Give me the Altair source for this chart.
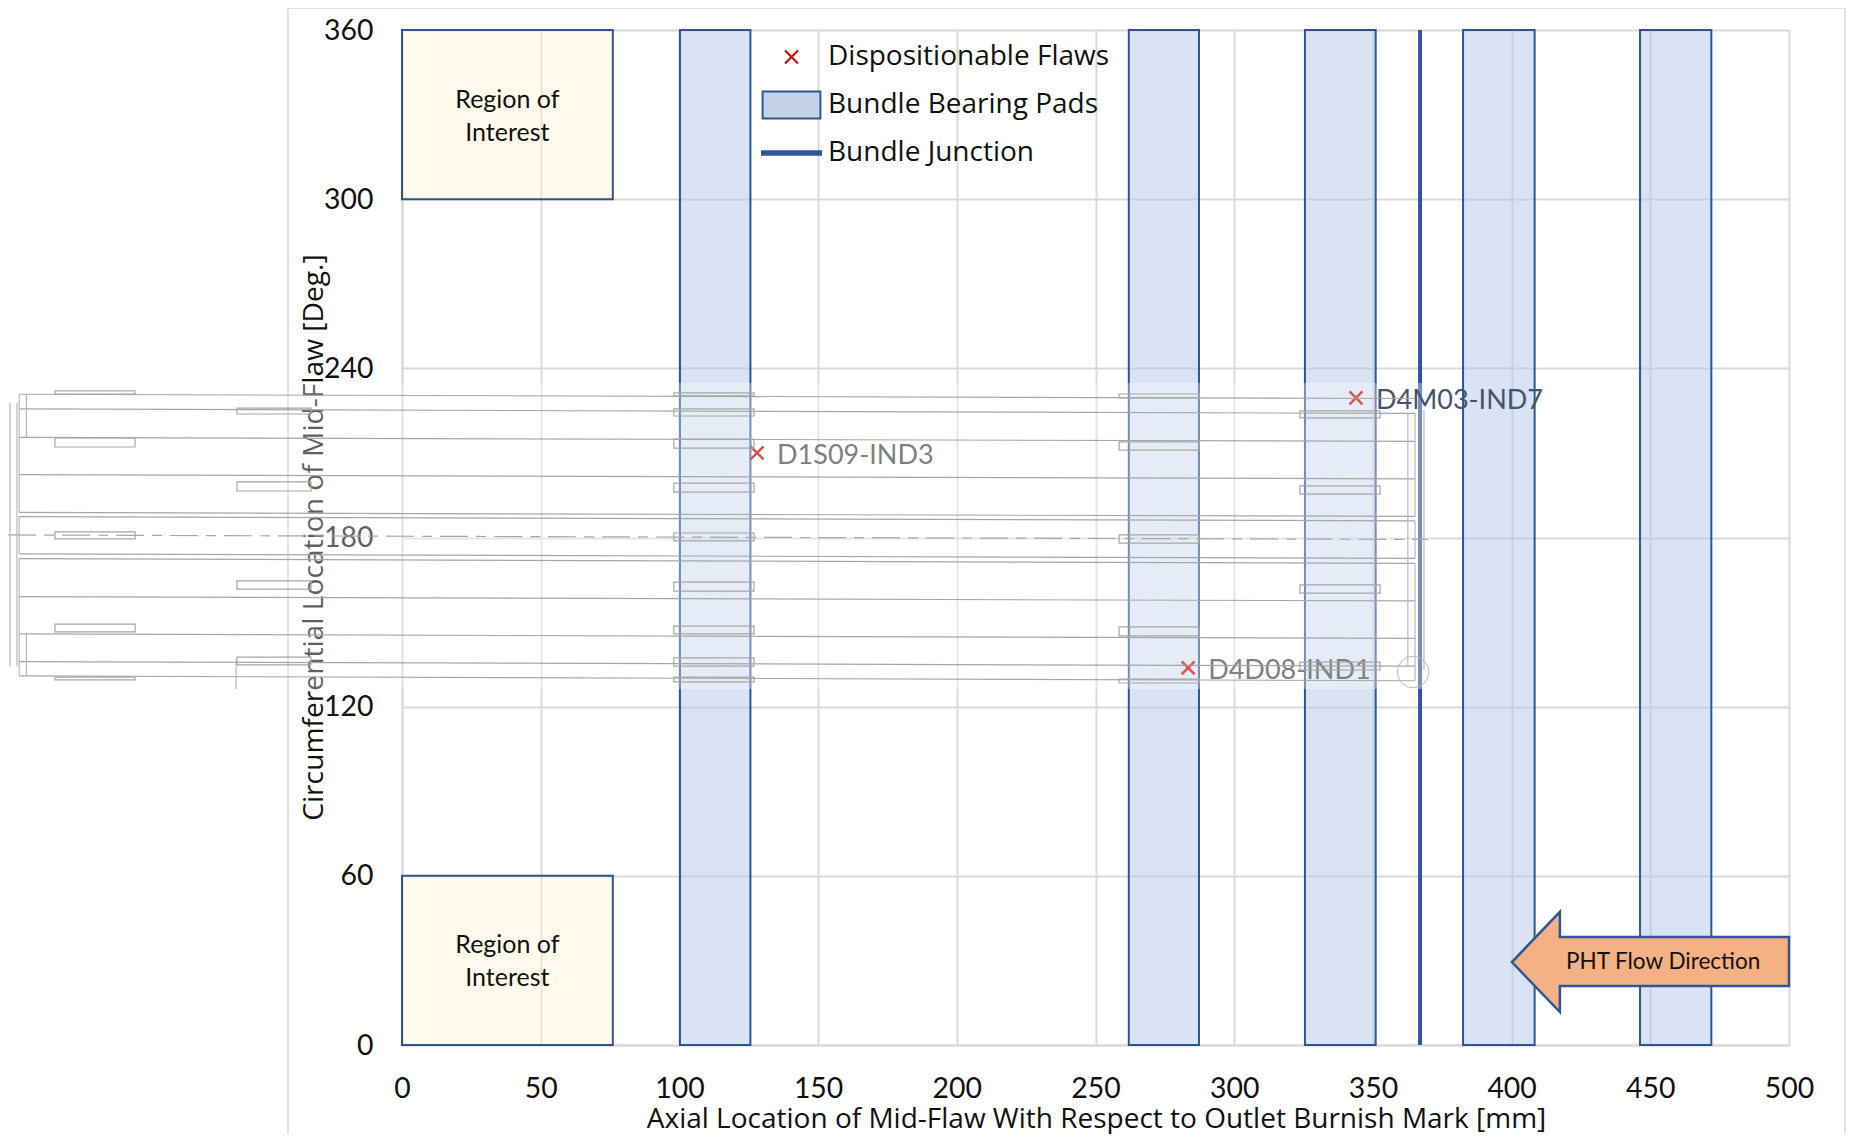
import altair as alt
import pandas as pd

FONT = "Lato"
WIDE = "Open Sans"
BLUE = "#2F5597"

# --- chart values (mm, degrees) ---
pad_x1 = [100.2, 262.0, 325.5, 382.5, 446.3]
pad_x2 = [125.6, 287.3, 351.0, 408.3, 472.0]
roi_x1 = [0, 0]
roi_x2 = [76.0, 76.0]
roi_y1 = [300, 0]
roi_y2 = [360, 60]
roi_tx = [38, 38]
roi_ty = [330, 30]
junction = [367]
flaw_x = [128.0, 343.9, 283.4]
flaw_y = [210.0, 229.5, 133.8]
flaw_names = ["D1S09-IND3", "D4M03-IND7", "D4D08-IND1"]
series_names = ["Dispositionable Flaws", "Bundle Bearing Pads", "Bundle Junction"]

arrow_x = [400.1, 417.4, 417.4, 500.0]
arrow_top = [29.4, 47.2, 38.3, 38.3]
arrow_bot = [29.4, 11.7, 20.9, 20.9]

# background drawing: bundle lines (left degree, right degree)
line_left = [230.8, 225.6, 215.5, 202.3, 188.9, 187.4, 174.2, 172.5, 159.0, 145.8, 136.0, 130.9]
line_right = [229.3, 224.0, 214.1, 200.8, 187.5, 185.9, 172.6, 170.8, 157.5, 144.2, 134.4, 129.2]
line_x1 = -138.0
line_x2 = 365.2
center_y = [180.9, 179.3]
center_x = [-142.0, 370.0]
vert_x = [-138.0, -138.0, -138.0, 365.2, 365.2, 365.2, -135.4, -135.4, 362.6, -141.3, -138.8, 368.4, -59.8]
vert_y1 = [230.8, 187.4, 172.5, 224.0, 185.9, 170.8, 230.8, 145.8, 224.0, 227.7, 227.7, 225.2, 136.5]
vert_y2 = [188.9, 174.2, 130.9, 187.5, 172.6, 129.2, 215.5, 130.9, 134.4, 134.3, 134.3, 133.0, 126.3]

drawing_pad_groups = {
    (-125.1, -96.2): [(232.0, 230.9), (215.3, 212.1), (182.0, 179.5), (149.3, 146.5), (130.5, 129.5)],
    (-59.5, -32.8): [(225.9, 223.8), (199.7, 196.5), (164.6, 161.7), (137.6, 134.8)],
    (98.0, 126.9): [(231.3, 230.2), (225.6, 223.1), (214.9, 211.7), (199.3, 196.1), (181.6, 178.8),
                    (164.2, 161.0), (148.6, 145.8), (137.3, 134.4), (130.5, 128.8)],
    (258.5, 287.3): [(230.9, 229.5), (213.9, 211.0), (180.9, 178.0), (148.3, 145.1), (129.8, 128.4)],
    (323.7, 352.6): [(224.9, 222.4), (198.3, 195.4), (163.2, 160.3), (135.8, 133.0)],
}
veil_x = [-142.0, 370.6]
veil_y = [126.3, 234.8]
circle_x = [364.5]
circle_y = [132.3]
frame_x = [-41.1, 520.2]
frame_y = [-34.4, 367.8]

# --- tables ---
pads = pd.DataFrame({"x1": pad_x1, "x2": pad_x2, "y1": [0] * 5, "y2": [360] * 5})
roi = pd.DataFrame({"x1": roi_x1, "x2": roi_x2, "y1": roi_y1, "y2": roi_y2})
roi_txt = pd.DataFrame({"x": roi_tx, "y": roi_ty, "t": ["Region of\nInterest"] * 2})
flaws = pd.DataFrame({"x": flaw_x, "y": flaw_y, "name": flaw_names, "series": series_names[0]})
arrow = pd.DataFrame({"x": arrow_x, "y": arrow_top, "y2": arrow_bot})

rows = []
for i, (a, b) in enumerate(zip(line_left, line_right)):
    rows += [{"x": line_x1, "y": a, "id": i, "o": 0}, {"x": line_x2, "y": b, "id": i, "o": 1}]
lines = pd.DataFrame(rows)
center = pd.DataFrame({"x": center_x, "y": center_y})
verts = pd.DataFrame({"x": vert_x, "y": vert_y1, "y2": vert_y2})
drawing_pads = pd.DataFrame([
    {"x1": k[0], "x2": k[1], "y1": a, "y2": b}
    for k, v in drawing_pad_groups.items() for a, b in v
])

xs = alt.Scale(domain=[0, 500], nice=False)
ys = alt.Scale(domain=[0, 360], nice=False)
X = alt.X("x:Q", scale=xs)
Y = alt.Y("y:Q", scale=ys)

base_x = alt.X(
    "x1:Q", scale=xs,
    axis=alt.Axis(
        values=list(range(0, 501, 50)), grid=True, gridColor="#D9D9D9", gridWidth=2,
        domainColor="#D9D9D9", domainWidth=2, ticks=False, labelFont=FONT, labelFontSize=28.4,
        labelColor="#111111", labelPadding=30, labelFlush=False, format="d",
        title="Axial Location of Mid-Flaw With Respect to Outlet Burnish Mark [mm]",
        titleFont=WIDE, titleFontSize=28, titleFontWeight="normal", titleColor="#111111",
        titleX=694, titleY=82, titleAlign="center", titleBaseline="alphabetic",
    ),
)
base_y = alt.Y(
    "y1:Q", scale=ys,
    axis=alt.Axis(
        values=list(range(0, 361, 60)), grid=True, gridColor="#D9D9D9", gridWidth=2,
        domainColor="#D9D9D9", domainWidth=2, ticks=False, labelFont=FONT, labelFontSize=28.4,
        labelColor="#111111", labelPadding=29, format="d",
        title="Circumferential Location of Mid-Flaw [Deg.]",
        titleFont=WIDE, titleFontSize=28.2, titleFontWeight="normal", titleColor="#111111",
        titleX=-74, titleY=507, titleAlign="center",
    ),
)

pad_layer = alt.Chart(pads).mark_rect(
    fill="#B4C7E7", fillOpacity=0.5, stroke=BLUE, strokeWidth=2
).encode(x=base_x, x2="x2:Q", y=base_y, y2="y2:Q")

roi_layer = alt.Chart(roi).mark_rect(
    fill="#FFF2CC", fillOpacity=0.4, stroke=BLUE, strokeWidth=2
).encode(x=alt.X("x1:Q", scale=xs), x2="x2:Q", y=alt.Y("y1:Q", scale=ys), y2="y2:Q")

roi_text = alt.Chart(roi_txt).mark_text(
    font=FONT, fontSize=25, color="#111111", lineBreak="\n", lineHeight=33, dy=-15
).encode(x=X, y=Y, text="t:N")

junction_layer = alt.Chart(pd.DataFrame({"x": junction})).mark_rule(
    stroke=BLUE, strokeWidth=4
).encode(x=X, y=alt.value(0), y2=alt.value(1015))

arrow_layer = alt.Chart(arrow).mark_area(
    fill="#F4B183", fillOpacity=1, stroke=BLUE, strokeWidth=2.5, interpolate="linear", orient="vertical"
).encode(x=X, y=Y, y2="y2:Q")
arrow_text = alt.Chart(pd.DataFrame({"x": [454.6], "y": [29.4], "t": ["PHT Flow Direction"]})).mark_text(
    font=FONT, fontSize=22.5, color="#111111"
).encode(x=X, y=Y, text="t:N")

PATH_X = "M-0.22,-0.22L0.22,0.22M0.22,-0.22L-0.22,0.22"
PATH_PAD = "M-0.98,-0.46H0.98V0.46H-0.98Z"
PATH_LINE = "M-1,-0.06H1V0.06H-1Z"
legend = alt.Legend(
    orient="none", legendX=359, legendY=3, title=None, symbolSize=3481, clipHeight=48, rowPadding=0,
    labelFont=WIDE, labelFontSize=28, labelColor="#111111", labelOffset=6, labelLimit=400,
    symbolStrokeWidth=2, symbolOpacity=1,
)
flaw_layer = alt.Chart(flaws).mark_point(size=3481, strokeWidth=2.5, opacity=1).encode(
    x=X, y=Y,
    shape=alt.Shape("series:N", scale=alt.Scale(domain=series_names, range=[PATH_X, PATH_PAD, PATH_LINE]), legend=legend),
    fill=alt.Fill("series:N", scale=alt.Scale(domain=series_names, range=["transparent", "#C5D3EA", BLUE]), legend=legend),
    stroke=alt.Stroke("series:N", scale=alt.Scale(domain=series_names, range=["#C00000", BLUE, BLUE]), legend=legend),
)
flaw_text = alt.Chart(flaws[flaws.name != "D4M03-IND7"]).mark_text(
    font=FONT, fontSize=27, color="#404040", align="left", dx=20, dy=3
).encode(x=X, y=Y, text="name:N")
flaw_text_top = alt.Chart(flaws[flaws.name == "D4M03-IND7"]).mark_text(
    font=FONT, fontSize=27, color="#44546A", align="left", dx=20, dy=3
).encode(x=X, y=Y, text="name:N")

veil = alt.Chart(pd.DataFrame({"x1": [veil_x[0]], "x2": [veil_x[1]], "y1": [veil_y[0]], "y2": [veil_y[1]]})).mark_rect(
    fill="#FFFFFF", fillOpacity=0.33, clip=False
).encode(x=alt.X("x1:Q", scale=xs), x2="x2:Q", y=alt.Y("y1:Q", scale=ys), y2="y2:Q")

frame = alt.Chart(pd.DataFrame({"x1": [frame_x[0]], "x2": [frame_x[1]], "y1": [frame_y[0]], "y2": [frame_y[1]]})).mark_rect(
    fill="transparent", stroke="#D9D9D9", strokeWidth=1.5, clip=False
).encode(x=alt.X("x1:Q", scale=xs), x2="x2:Q", y=alt.Y("y1:Q", scale=ys), y2="y2:Q")

GRAY = "#A6A6A6"
line_layer = alt.Chart(lines).mark_line(stroke=GRAY, strokeWidth=1.2, clip=False).encode(
    x=X, y=Y, detail="id:N", order="o:Q"
)
center_layer = alt.Chart(center).mark_line(
    stroke=GRAY, strokeWidth=1.2, strokeDash=[28, 8, 10, 8], clip=False
).encode(x=X, y=Y)
vert_layer = alt.Chart(verts).mark_rule(stroke="#B8B8B8", strokeWidth=1.2, clip=False).encode(x=X, y=Y, y2="y2:Q")
dpad_layer = alt.Chart(drawing_pads).mark_rect(
    fill="transparent", stroke=GRAY, strokeWidth=1.2, clip=False
).encode(x=alt.X("x1:Q", scale=xs), x2="x2:Q", y=alt.Y("y1:Q", scale=ys), y2="y2:Q")
circle_layer = alt.Chart(pd.DataFrame({"x": circle_x, "y": circle_y})).mark_point(
    shape="circle", size=1000, stroke="#B8B8B8", strokeWidth=1, fill="transparent", opacity=1, clip=False
).encode(x=X, y=Y)

chart = alt.layer(
    pad_layer, roi_layer, roi_text, junction_layer, flaw_layer, flaw_text, veil,
    flaw_text_top, frame, line_layer, center_layer, vert_layer, dpad_layer, circle_layer,
    arrow_layer, arrow_text,
).properties(
    width=1387, height=1015,
    autosize=alt.AutoSizeParams(type="none"),
    padding={"left": 394, "top": 22, "right": 57, "bottom": 89},
    background="white",
).configure_view(stroke=None)

chart.save("out.html", embed_options={"renderer": "svg", "actions": False})
